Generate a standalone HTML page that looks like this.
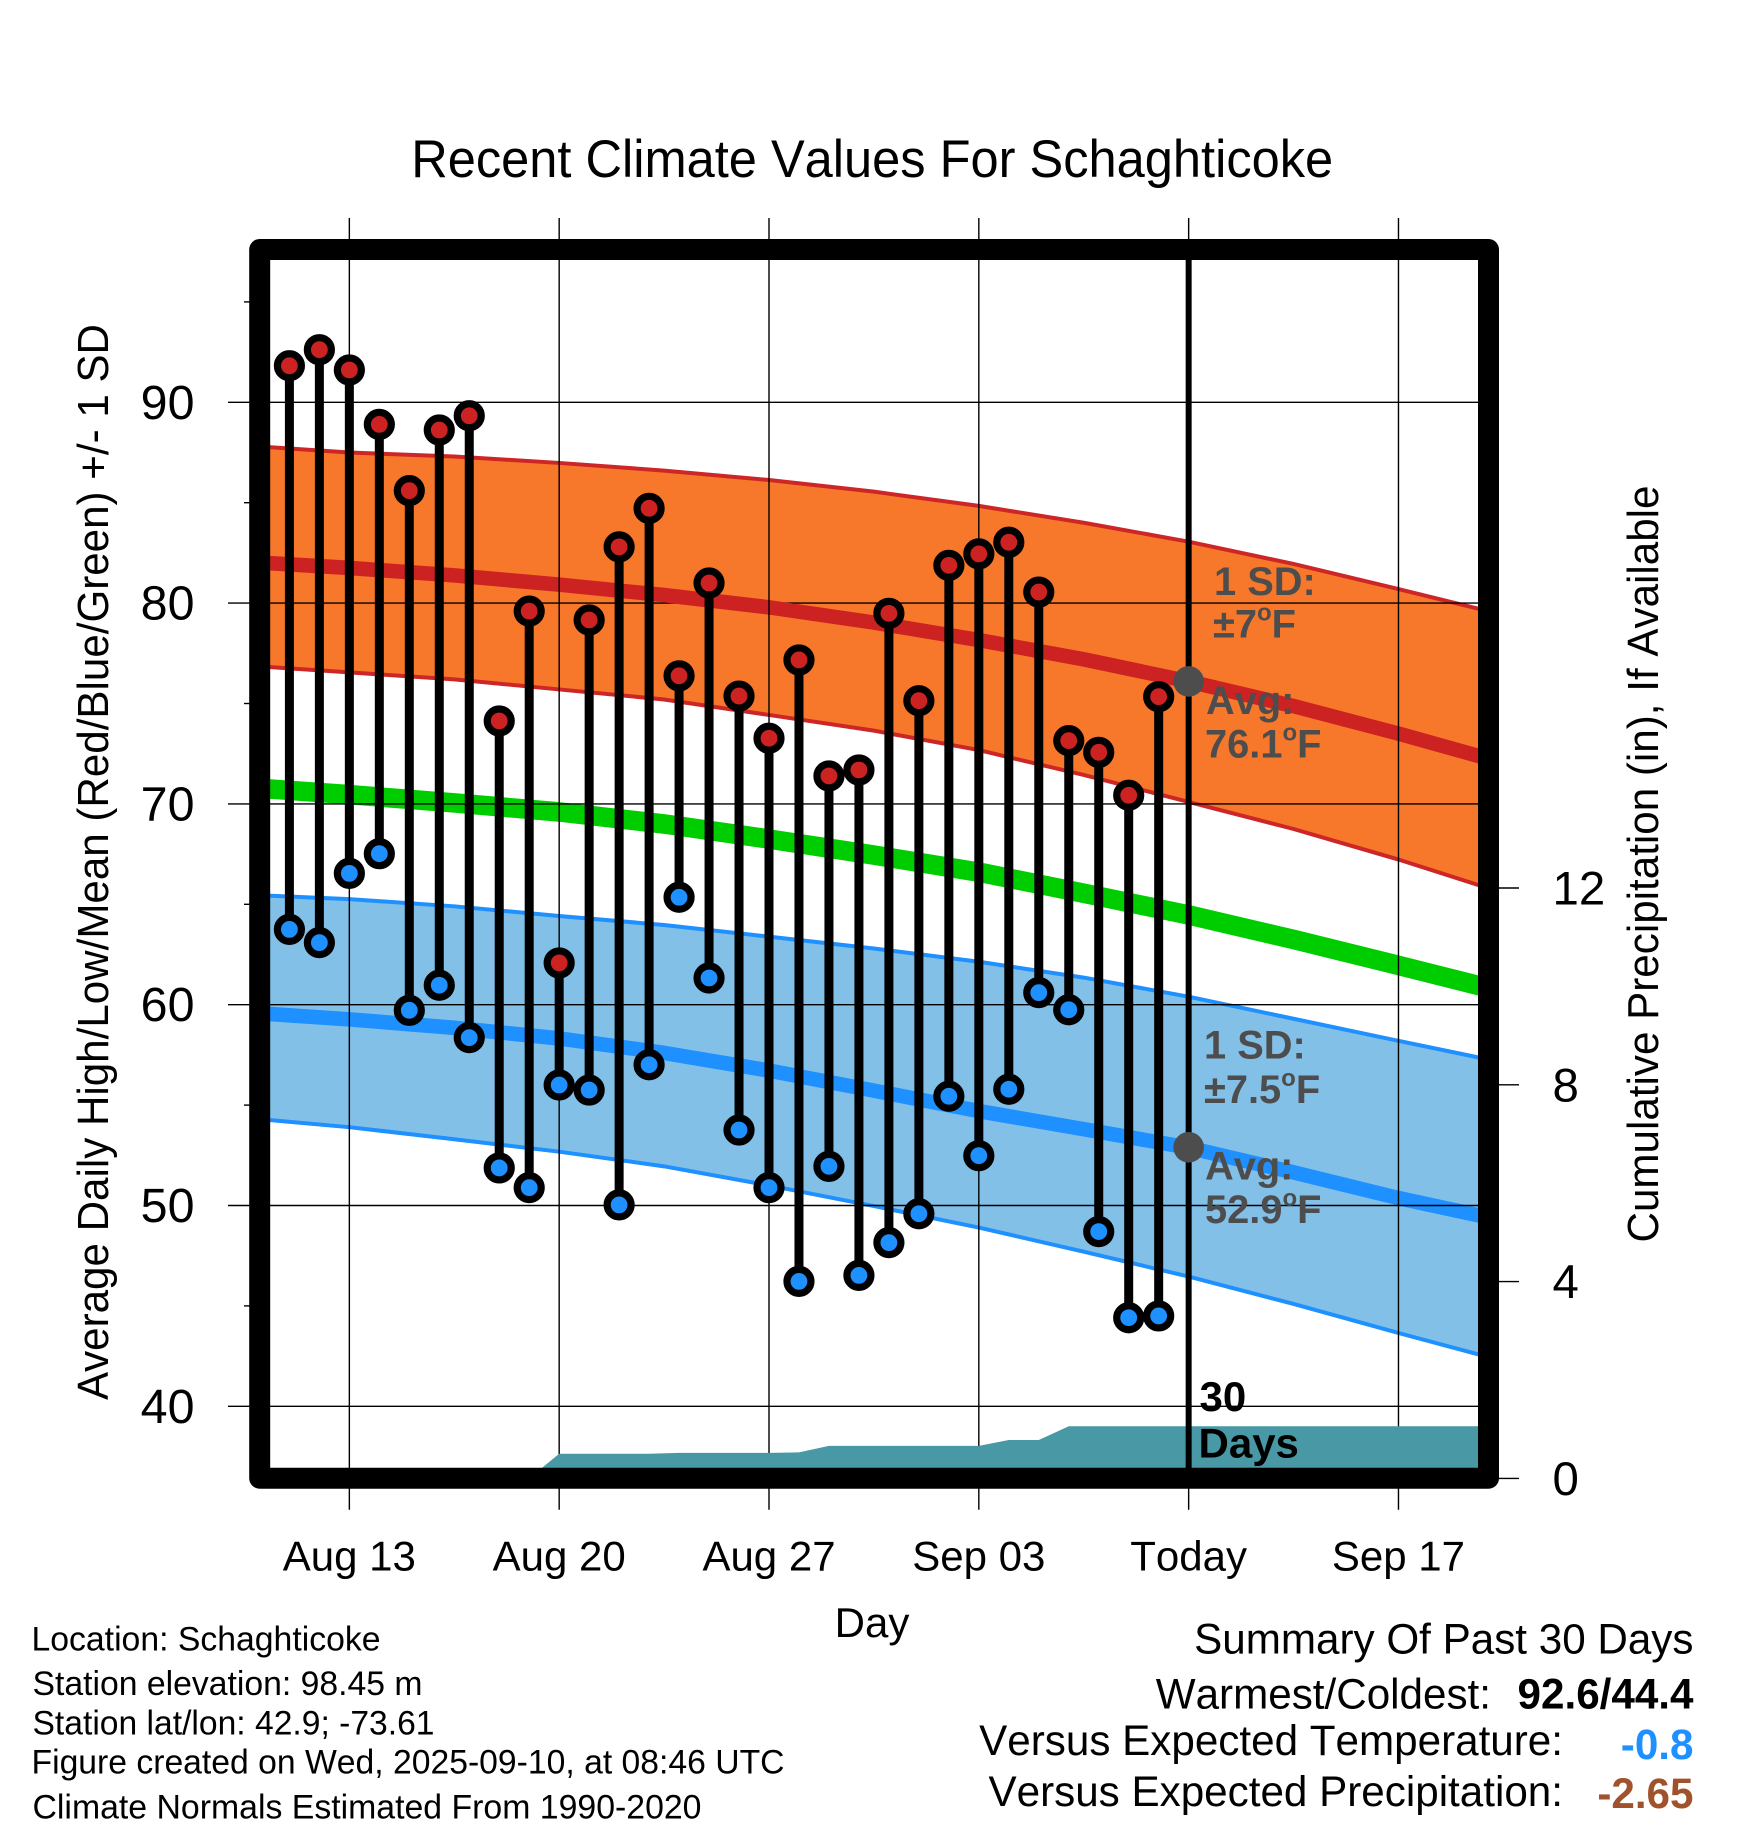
<!DOCTYPE html>
<html lang="en">
<head>
<meta charset="utf-8">
<title>Recent Climate Values For Schaghticoke</title>
<style>
html,body{margin:0;padding:0;background:#fff;}
svg{display:block;font-family:"Liberation Sans",Arial,sans-serif;}
svg text{font-kerning:none;font-feature-settings:"kern" 0;}
.anno{font-weight:bold;font-size:39.8px;fill:#4d4d4d;}
.foot{font-size:34px;fill:#000;}
.summ{font-size:42.2px;fill:#000;text-anchor:end;}
.summb{font-size:42.2px;font-weight:bold;text-anchor:end;}
.xl{font-size:42px;fill:#000;text-anchor:middle;}
.yl{font-size:48.4px;fill:#000;}
.yr{font-size:47.4px;fill:#000;}
.sup{font-size:24px;}
</style>
</head>
<body>
<svg id="chart" xmlns="http://www.w3.org/2000/svg" width="1748" height="1828" viewBox="0 0 1748 1828">
  <rect x="0" y="0" width="1748" height="1828" fill="#fff"/>
  <g id="bands"></g>
  <g id="hgrid"></g>
  <g id="means"></g>
  <g id="vgrid"></g>
  <g id="precip"></g>
  <g id="stems"></g>
  <line id="today-line" stroke="#000" stroke-width="6"/>
  <g id="dots"></g>
  <g id="today-dots"></g>
  <rect x="259.7" y="249.5" width="1228.8" height="1228.7" fill="none" stroke="#000" stroke-width="21" stroke-linejoin="round"/>
  <g id="ticks"></g>
  <g id="ticklabels"></g>

  <text x="872.2" y="177" font-size="52.5" text-anchor="middle" textLength="922" lengthAdjust="spacingAndGlyphs">Recent Climate Values For Schaghticoke</text>
  <text transform="translate(108,862) rotate(-90)" font-size="43.5" text-anchor="middle" textLength="1076" lengthAdjust="spacingAndGlyphs">Average Daily High/Low/Mean (Red/Blue/Green) +/- 1 SD</text>
  <text transform="translate(1658,864) rotate(-90)" font-size="43.5" text-anchor="middle" textLength="757" lengthAdjust="spacingAndGlyphs">Cumulative Precipitation (in), If Available</text>
  <text x="872" y="1637" font-size="42" text-anchor="middle">Day</text>

  <text class="anno" x="1214" y="595">1 SD:</text>
  <text class="anno" x="1213" y="637.3">±7<tspan class="sup" dy="-17">o</tspan><tspan dy="17">F</tspan></text>
  <text class="anno" x="1206" y="714">Avg:</text>
  <text class="anno" x="1205" y="757.3">76.1<tspan class="sup" dy="-17">o</tspan><tspan dy="17">F</tspan></text>
  <text class="anno" x="1204" y="1058.6">1 SD:</text>
  <text class="anno" x="1204" y="1103.2">±7.5<tspan class="sup" dy="-17">o</tspan><tspan dy="17">F</tspan></text>
  <text class="anno" x="1205" y="1179.3">Avg:</text>
  <text class="anno" x="1205" y="1222.9">52.9<tspan class="sup" dy="-17">o</tspan><tspan dy="17">F</tspan></text>
  <text x="1199.5" y="1411" font-size="42" font-weight="bold">30</text>
  <text x="1198.5" y="1457.7" font-size="42" font-weight="bold">Days</text>

  <text class="foot" x="31.5" y="1650.7" textLength="349" lengthAdjust="spacingAndGlyphs">Location: Schaghticoke</text>
  <text class="foot" x="32.5" y="1695" textLength="390" lengthAdjust="spacingAndGlyphs">Station elevation: 98.45 m</text>
  <text class="foot" x="32.5" y="1734.3" textLength="402" lengthAdjust="spacingAndGlyphs">Station lat/lon: 42.9; -73.61</text>
  <text class="foot" x="31.5" y="1773.7" textLength="753" lengthAdjust="spacingAndGlyphs">Figure created on Wed, 2025-09-10, at 08:46 UTC</text>
  <text class="foot" x="32.5" y="1818.3" textLength="669" lengthAdjust="spacingAndGlyphs">Climate Normals Estimated From 1990-2020</text>

  <text class="summ" x="1693.5" y="1653.3">Summary Of Past 30 Days</text>
  <text class="summ" x="1491" y="1708.3">Warmest/Coldest:</text>
  <text class="summb" x="1693.5" y="1708.3" fill="#000">92.6/44.4</text>
  <text class="summ" x="1563" y="1755">Versus Expected Temperature:</text>
  <text class="summb" x="1693.5" y="1759" fill="#1e90ff">-0.8</text>
  <text class="summ" x="1563" y="1806">Versus Expected Precipitation:</text>
  <text class="summb" x="1693.5" y="1808" fill="#a0522d">-2.65</text>
</svg>
<script>
// ---- observed daily data (index 0 = Aug 11) ----
var highs = [91.82,92.62,91.61,88.9,85.6,88.62,89.33,74.13,79.6,62.08,79.16,82.8,84.72,76.38,81.0,75.37,73.27,77.17,71.39,71.69,79.49,75.14,81.88,82.45,83.03,80.55,73.15,72.57,70.43,75.34];
var lows = [63.75,63.09,66.54,67.52,59.72,60.97,58.36,51.87,50.89,56.0,55.75,50.03,57.01,65.35,61.33,53.76,50.89,46.22,51.95,46.52,48.15,49.59,55.44,52.48,55.79,60.6,59.75,48.7,44.41,44.5];
var precipValues = [0,0,0,0,0,0,0,0,0,0.5,0.5,0.5,0.5,0.52,0.52,0.52,0.52,0.53,0.66,0.66,0.66,0.66,0.66,0.66,0.78,0.78,1.06,1.06,1.06,1.06];
// ---- climate normals, sampled on normalDays ----
var normalDays = [-1,2,5.5,9,12.5,16,19.5,23,26.5,30,33.5,37,40];
var highUpper = [87.8,87.5,87.3,86.98,86.6,86.13,85.55,84.84,84.0,83.06,81.95,80.7,79.6];
var highMean = [82.02,81.75,81.38,80.92,80.4,79.79,79.03,78.16,77.2,76.1,74.87,73.5,72.25];
var highLower = [76.85,76.55,76.2,75.7,75.2,74.43,73.65,72.68,71.44,70.1,68.75,67.23,65.8];
var dailyMean = [70.78,70.46,70.05,69.6,69.0,68.25,67.45,66.6,65.55,64.47,63.25,61.96,60.83];
var lowUpper = [65.45,65.26,64.9,64.42,63.97,63.39,62.8,62.14,61.35,60.4,59.3,58.2,57.27];
var lowMean = [59.57,59.27,58.85,58.32,57.6,56.72,55.72,54.7,53.8,52.88,51.65,50.37,49.4];
var lowLower = [54.3,53.9,53.3,52.68,51.95,51.0,49.97,48.9,47.7,46.46,45.1,43.65,42.45];
// ---- today's averages and axes ----
var todayDay = 30;
var todayHighAvg = 76.1;
var todayLowAvg = 52.9;
var xTickDays = [2,9,16,23,30,37];
var xTickLabels = ["Aug 13","Aug 20","Aug 27","Sep 03","Today","Sep 17"];
var yMajorTicks = [40,50,60,70,80,90];
var yMinorTicks = [45,55,65,75,85,95];
var precipTicks = [0,4,8,12];

function xDay(d){return 289.4+29.975*d;}
function yTemp(v){return 402.3+(90-v)*20.08;}
function yPrecip(p){return 1478.4-49.2*p;}

var NS = "http://www.w3.org/2000/svg";
function mk(parentId,tag,attrs){
  var el=document.createElementNS(NS,tag);
  for(var k in attrs){el.setAttribute(k,attrs[k]);}
  document.getElementById(parentId).appendChild(el);
  return el;
}
function curvePts(vals){
  return vals.map(function(v,i){return xDay(normalDays[i]).toFixed(2)+","+yTemp(v).toFixed(2);});
}
function band(parent,upper,lower,fill,name){
  var el=mk(parent,"polygon",{points:curvePts(upper).concat(curvePts(lower).reverse()).join(" "),fill:fill});
  
  
}
function curve(parent,vals,color,width,name){
  var el=mk(parent,"polyline",{points:curvePts(vals).join(" "),fill:"none",stroke:color,"stroke-width":width,"stroke-linejoin":"round"});
  
  
}

// bands
band("bands",highUpper,highLower,"#f7782b","high-sd-band");
band("bands",lowUpper,lowLower,"#82c0e8","low-sd-band");
curve("bands",highUpper,"#cd2626",4,"high-upper-line");
curve("bands",highLower,"#cd2626",4,"high-lower-line");
curve("bands",lowUpper,"#1e90ff",4,"low-upper-line");
curve("bands",lowLower,"#1e90ff",4,"low-lower-line");
curve("bands",dailyMean,"#00cd00",19.6,"daily-mean-line");
curve("bands",lowMean,"#1e90ff",14.6,"low-mean-line");

// horizontal grid + left ticks
yMajorTicks.forEach(function(v){
  var gl=mk("hgrid","line",{x1:228,x2:1478,y1:yTemp(v),y2:yTemp(v),stroke:"#000","stroke-width":1.4});
  
  
  var tx=mk("ticklabels","text",{x:194.5,y:yTemp(v)+16.5,"text-anchor":"end","class":"yl"});
  tx.textContent=String(v);
  
  
});
yMinorTicks.forEach(function(v){
  var t=mk("ticks","line",{x1:244,x2:250,y1:yTemp(v),y2:yTemp(v),stroke:"#000","stroke-width":1.4});
  
  
});

curve("means",highMean,"#cd2222",14.6,"high-mean-line");

// vertical grid + x labels
xTickDays.forEach(function(d,i){
  var gl=mk("vgrid","line",{x1:xDay(d),x2:xDay(d),y1:218,y2:1509.7,stroke:"#000","stroke-width":1.4});
  
  
  var tx=mk("ticklabels","text",{x:xDay(d),y:1570.7,"class":"xl"});
  tx.textContent=xTickLabels[i];
  
  
});

// precipitation
(function(){
  var pts=[];
  precipValues.forEach(function(p,i){pts.push(xDay(i).toFixed(2)+","+yPrecip(p).toFixed(2));});
  var last=precipValues[precipValues.length-1];
  pts.push(xDay(40)+","+yPrecip(last));
  pts.push(xDay(40)+","+yPrecip(0));
  pts.push(xDay(0)+","+yPrecip(0));
  var el=mk("precip","polygon",{points:pts.join(" "),fill:"#4899a5"});
  
  
})();

// stems and dots
highs.forEach(function(h,i){
  var x=xDay(i);
  var s=mk("stems","line",{x1:x,x2:x,y1:yTemp(h),y2:yTemp(lows[i]),stroke:"#000","stroke-width":9});
  
  
  var hd=mk("dots","circle",{cx:x,cy:yTemp(h),r:12,fill:"#cd2222",stroke:"#000","stroke-width":7.2});
  
  
  var ld=mk("dots","circle",{cx:x,cy:yTemp(lows[i]),r:12,fill:"#1e90ff",stroke:"#000","stroke-width":7.2});
  
  
});

// today marker
(function(){
  var line=document.getElementById("today-line");
  line.setAttribute("x1",xDay(todayDay));
  line.setAttribute("x2",xDay(todayDay));
  line.setAttribute("y1",255);
  line.setAttribute("y2",1472);
  var a=mk("today-dots","circle",{cx:xDay(todayDay),cy:yTemp(todayHighAvg),r:15.3,fill:"#4d4d4d"});
  
  
  var b=mk("today-dots","circle",{cx:xDay(todayDay),cy:yTemp(todayLowAvg),r:15.3,fill:"#4d4d4d"});
  
  
})();

// right axis
precipTicks.forEach(function(p){
  var t=mk("ticks","line",{x1:1499,x2:1519,y1:yPrecip(p),y2:yPrecip(p),stroke:"#000","stroke-width":1.4});
  
  
  var tx=mk("ticklabels","text",{x:1552.5,y:yPrecip(p)+16.5,"class":"yr"});
  tx.textContent=String(p);
  
  
});
</script>
</body>
</html>
